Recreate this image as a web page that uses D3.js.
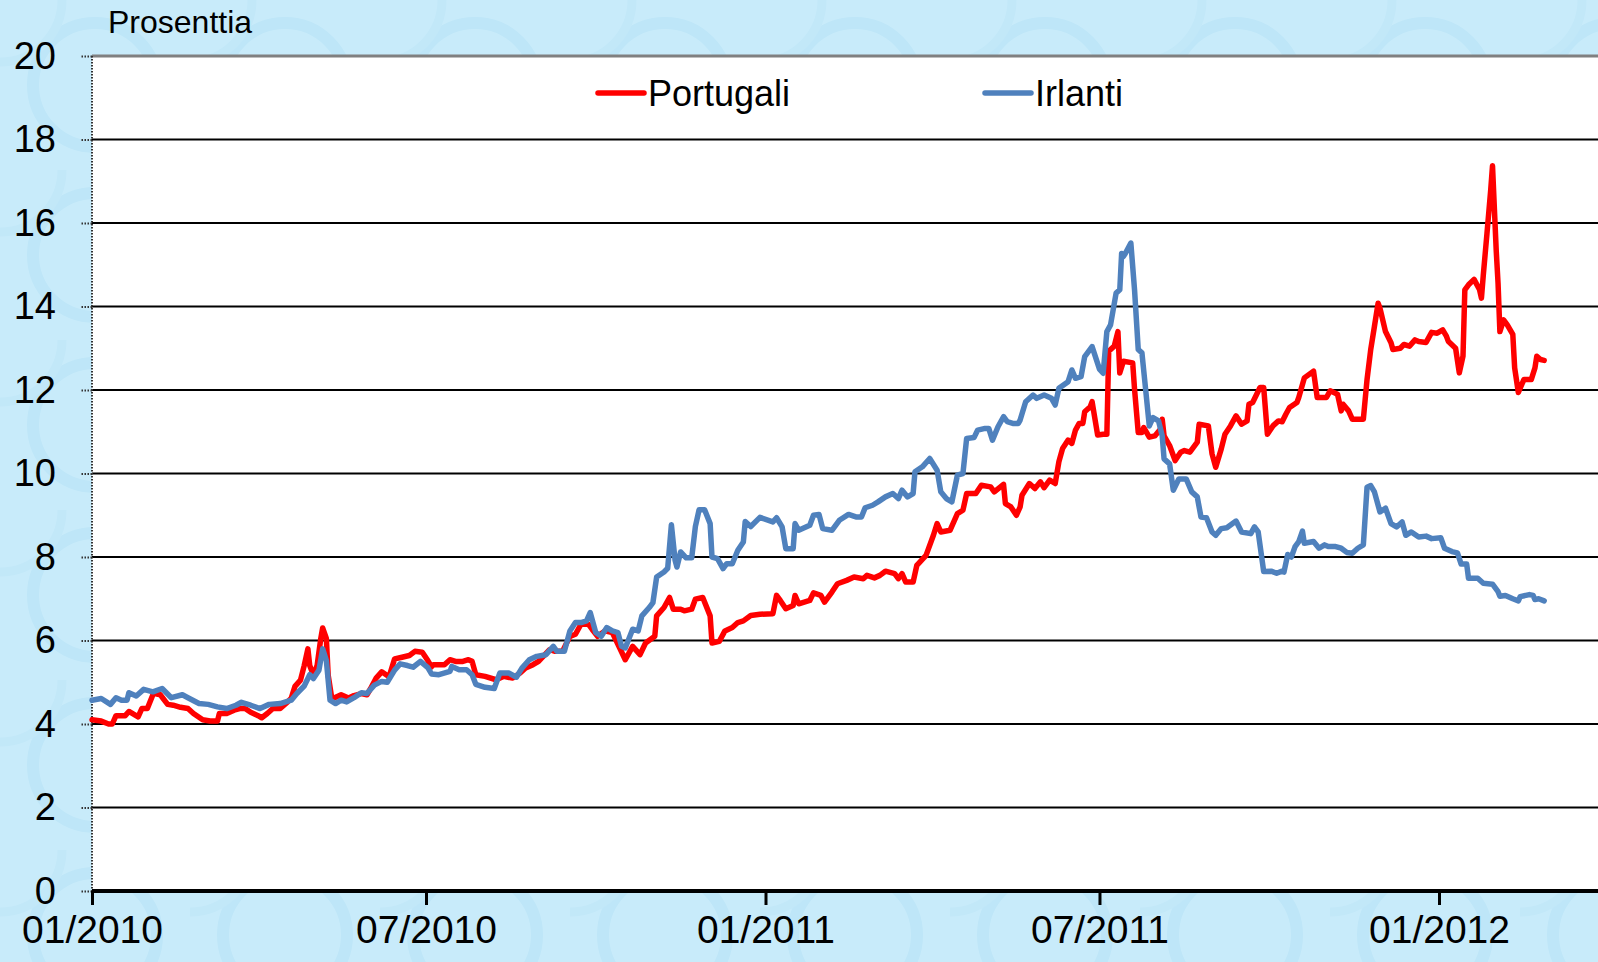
<!DOCTYPE html>
<html>
<head>
<meta charset="utf-8">
<script src="https://cdn.jsdelivr.net/npm/d3@7"></script>
<style>
  html, body { margin: 0; padding: 0; background: #c8ebfa; }
  svg { display: block; }
  text { font-family: "Liberation Sans", Arial, sans-serif; fill: #000; }
</style>
</head>
<body>
<svg id="chart" width="1598" height="962"></svg>
<script>
// y-axis ticks and x-axis tick dates
var yTicks = [0, 2, 4, 6, 8, 10, 12, 14, 16, 18, 20];
var xTickDates = ["2010-01-01", "2010-07-01", "2011-01-01", "2011-07-01", "2012-01-01"];
var seriesNames = ["Portugali", "Irlanti"];
var seriesColors = ["#ff0000", "#4f81bd"];

// 10-year yields (%)
var portugali = [
  ["2010-01-01",4.10],["2010-01-06",4.07],["2010-01-10",4.00],["2010-01-12",4.00],["2010-01-14",4.20],
  ["2010-01-19",4.20],["2010-01-21",4.30],["2010-01-26",4.17],["2010-01-28",4.37],["2010-01-31",4.37],
  ["2010-02-03",4.70],["2010-02-04",4.73],["2010-02-07",4.70],["2010-02-11",4.47],["2010-02-14",4.45],
  ["2010-02-18",4.40],["2010-02-22",4.37],["2010-02-25",4.25],["2010-03-02",4.10],["2010-03-06",4.07],
  ["2010-03-10",4.07],["2010-03-11",4.25],["2010-03-15",4.25],["2010-03-19",4.33],["2010-03-22",4.37],
  ["2010-03-25",4.37],["2010-03-28",4.28],["2010-04-01",4.20],["2010-04-03",4.15],["2010-04-06",4.25],
  ["2010-04-09",4.37],["2010-04-13",4.37],["2010-04-17",4.53],["2010-04-19",4.62],["2010-04-21",4.90],
  ["2010-04-24",5.05],["2010-04-26",5.40],["2010-04-28",5.80],["2010-04-29",5.40],["2010-05-01",5.17],
  ["2010-05-03",5.40],["2010-05-05",6.05],["2010-05-06",6.30],["2010-05-08",6.05],["2010-05-09",5.17],
  ["2010-05-11",4.60],["2010-05-16",4.70],["2010-05-20",4.62],["2010-05-23",4.68],["2010-05-27",4.73],
  ["2010-05-30",4.70],["2010-06-01",4.85],["2010-06-04",5.10],["2010-06-07",5.25],["2010-06-11",5.13],
  ["2010-06-14",5.56],["2010-06-18",5.60],["2010-06-22",5.64],["2010-06-25",5.74],["2010-06-29",5.72],
  ["2010-07-02",5.52],["2010-07-04",5.37],["2010-07-05",5.42],["2010-07-11",5.42],["2010-07-14",5.54],
  ["2010-07-17",5.50],["2010-07-21",5.50],["2010-07-24",5.54],["2010-07-26",5.50],["2010-07-28",5.18],
  ["2010-08-02",5.14],["2010-08-08",5.06],["2010-08-12",5.14],["2010-08-17",5.10],["2010-08-21",5.22],
  ["2010-08-24",5.34],["2010-08-28",5.42],["2010-08-31",5.50],["2010-09-06",5.78],["2010-09-09",5.74],
  ["2010-09-13",5.74],["2010-09-17",6.10],["2010-09-20",6.15],["2010-09-23",6.39],["2010-09-27",6.39],
  ["2010-09-29",6.27],["2010-10-02",6.10],["2010-10-06",6.23],["2010-10-10",6.19],["2010-10-14",5.82],
  ["2010-10-17",5.54],["2010-10-21",5.86],["2010-10-25",5.66],["2010-10-28",5.94],["2010-11-02",6.10],
  ["2010-11-03",6.59],["2010-11-07",6.79],["2010-11-10",7.03],["2010-11-12",6.75],["2010-11-16",6.75],
  ["2010-11-18",6.71],["2010-11-22",6.75],["2010-11-24",6.99],["2010-11-28",7.03],["2010-12-02",6.59],
  ["2010-12-03",5.94],["2010-12-07",5.98],["2010-12-10",6.23],["2010-12-14",6.31],["2010-12-17",6.43],
  ["2010-12-20",6.47],["2010-12-24",6.60],["2010-12-29",6.63],["2011-01-05",6.64],["2011-01-07",7.08],
  ["2011-01-09",6.96],["2011-01-12",6.76],["2011-01-16",6.84],["2011-01-17",7.08],["2011-01-19",6.88],
  ["2011-01-25",6.96],["2011-01-27",7.14],["2011-01-31",7.08],["2011-02-02",6.92],["2011-02-06",7.16],
  ["2011-02-09",7.36],["2011-02-14",7.44],["2011-02-18",7.52],["2011-02-23",7.48],["2011-02-25",7.56],
  ["2011-03-01",7.50],["2011-03-04",7.56],["2011-03-07",7.66],["2011-03-12",7.60],["2011-03-14",7.48],
  ["2011-03-16",7.60],["2011-03-18",7.40],["2011-03-22",7.40],["2011-03-24",7.80],["2011-03-29",8.04],
  ["2011-04-02",8.52],["2011-04-04",8.80],["2011-04-06",8.60],["2011-04-11",8.64],["2011-04-15",9.04],
  ["2011-04-18",9.12],["2011-04-20",9.52],["2011-04-25",9.52],["2011-04-28",9.72],["2011-05-03",9.68],
  ["2011-05-05",9.56],["2011-05-10",9.74],["2011-05-11",9.28],["2011-05-14",9.20],["2011-05-17",9.00],
  ["2011-05-19",9.20],["2011-05-20",9.48],["2011-05-24",9.76],["2011-05-27",9.64],["2011-05-30",9.80],
  ["2011-06-01",9.66],["2011-06-04",9.84],["2011-06-07",9.76],["2011-06-09",10.28],["2011-06-11",10.60],
  ["2011-06-14",10.80],["2011-06-16",10.72],["2011-06-18",11.04],["2011-06-20",11.20],["2011-06-22",11.20],
  ["2011-06-23",11.48],["2011-06-26",11.60],["2011-06-27",11.72],["2011-06-30",10.92],["2011-07-03",10.94],
  ["2011-07-05",10.94],["2011-07-06",12.93],["2011-07-09",13.05],["2011-07-11",13.40],["2011-07-12",12.41],
  ["2011-07-14",12.69],["2011-07-19",12.65],["2011-07-20",12.02],["2011-07-22",10.98],["2011-07-24",10.98],
  ["2011-07-25",11.10],["2011-07-28",10.87],["2011-07-31",10.90],["2011-08-03",11.06],["2011-08-04",11.30],
  ["2011-08-05",10.90],["2011-08-08",10.67],["2011-08-11",10.31],["2011-08-14",10.51],["2011-08-16",10.55],
  ["2011-08-19",10.51],["2011-08-23",10.75],["2011-08-24",11.18],["2011-08-29",11.14],["2011-08-31",10.47],
  ["2011-09-02",10.15],["2011-09-05",10.59],["2011-09-07",10.94],["2011-09-10",11.14],["2011-09-13",11.38],
  ["2011-09-16",11.18],["2011-09-19",11.26],["2011-09-20",11.66],["2011-09-22",11.70],["2011-09-26",12.06],
  ["2011-09-28",12.06],["2011-09-30",10.94],["2011-10-03",11.14],["2011-10-06",11.26],["2011-10-08",11.24],
  ["2011-10-10",11.42],["2011-10-12",11.58],["2011-10-16",11.70],["2011-10-17",11.82],["2011-10-20",12.29],
  ["2011-10-25",12.45],["2011-10-27",11.82],["2011-11-01",11.82],["2011-11-03",11.98],["2011-11-07",11.90],
  ["2011-11-09",11.50],["2011-11-10",11.66],["2011-11-13",11.50],["2011-11-15",11.30],["2011-11-21",11.30],
  ["2011-11-23",12.25],["2011-11-25",12.97],["2011-11-27",13.52],["2011-11-29",14.08],["2011-11-30",13.96],
  ["2011-12-03",13.40],["2011-12-06",13.13],["2011-12-07",12.97],["2011-12-11",13.00],["2011-12-13",13.09],
  ["2011-12-16",13.05],["2011-12-19",13.20],["2011-12-21",13.16],["2011-12-25",13.14],["2011-12-28",13.38],
  ["2011-12-31",13.36],["2012-01-03",13.44],["2012-01-05",13.29],["2012-01-06",13.17],["2012-01-10",13.00],
  ["2012-01-12",12.41],["2012-01-14",12.81],["2012-01-15",14.40],["2012-01-17",14.52],["2012-01-20",14.65],
  ["2012-01-23",14.40],["2012-01-24",14.20],["2012-01-25",14.75],["2012-01-27",15.75],["2012-01-29",16.78],
  ["2012-01-30",17.37],["2012-02-01",15.35],["2012-02-02",14.56],["2012-02-03",13.40],["2012-02-05",13.68],
  ["2012-02-07",13.56],["2012-02-10",13.33],["2012-02-11",12.53],["2012-02-13",11.94],["2012-02-16",12.25],
  ["2012-02-20",12.25],["2012-02-22",12.53],["2012-02-23",12.81],["2012-02-25",12.73],["2012-02-27",12.71]
];

var irlanti = [
  ["2010-01-01",4.57],["2010-01-06",4.61],["2010-01-11",4.47],["2010-01-14",4.63],["2010-01-17",4.57],
  ["2010-01-20",4.57],["2010-01-21",4.75],["2010-01-25",4.67],["2010-01-29",4.83],["2010-02-03",4.77],
  ["2010-02-08",4.85],["2010-02-13",4.63],["2010-02-19",4.70],["2010-02-22",4.63],["2010-02-28",4.49],
  ["2010-03-05",4.47],["2010-03-10",4.41],["2010-03-15",4.37],["2010-03-20",4.45],["2010-03-23",4.52],
  ["2010-03-28",4.45],["2010-04-02",4.37],["2010-04-07",4.47],["2010-04-13",4.49],["2010-04-19",4.57],
  ["2010-04-22",4.73],["2010-04-26",4.91],["2010-04-29",5.18],["2010-05-01",5.09],["2010-05-04",5.29],
  ["2010-05-06",5.80],["2010-05-08",5.52],["2010-05-10",4.57],["2010-05-13",4.49],["2010-05-16",4.57],
  ["2010-05-19",4.53],["2010-05-23",4.63],["2010-05-27",4.75],["2010-05-30",4.73],["2010-06-03",4.93],
  ["2010-06-07",5.02],["2010-06-10",5.00],["2010-06-14",5.29],["2010-06-17",5.44],["2010-06-21",5.40],
  ["2010-06-24",5.36],["2010-06-28",5.50],["2010-07-02",5.35],["2010-07-04",5.20],["2010-07-08",5.18],
  ["2010-07-14",5.26],["2010-07-15",5.38],["2010-07-19",5.30],["2010-07-23",5.30],["2010-07-26",5.18],
  ["2010-07-28",4.95],["2010-08-02",4.88],["2010-08-07",4.85],["2010-08-10",5.22],["2010-08-15",5.22],
  ["2010-08-19",5.12],["2010-08-22",5.34],["2010-08-26",5.54],["2010-08-30",5.62],["2010-09-04",5.66],
  ["2010-09-08",5.86],["2010-09-10",5.74],["2010-09-14",5.74],["2010-09-17",6.23],["2010-09-20",6.43],
  ["2010-09-23",6.43],["2010-09-26",6.47],["2010-09-28",6.67],["2010-10-01",6.19],["2010-10-04",6.10],
  ["2010-10-07",6.31],["2010-10-10",6.23],["2010-10-13",6.19],["2010-10-15",5.86],["2010-10-17",5.82],
  ["2010-10-21",6.27],["2010-10-24",6.23],["2010-10-26",6.59],["2010-10-30",6.79],["2010-11-01",6.91],
  ["2010-11-03",7.52],["2010-11-07",7.64],["2010-11-09",7.73],["2010-11-11",8.77],["2010-11-13",7.92],
  ["2010-11-14",7.76],["2010-11-16",8.12],["2010-11-19",7.98],["2010-11-22",7.98],["2010-11-24",8.73],
  ["2010-11-26",9.13],["2010-11-29",9.13],["2010-12-02",8.80],["2010-12-03",8.00],["2010-12-06",7.96],
  ["2010-12-09",7.72],["2010-12-11",7.84],["2010-12-14",7.84],["2010-12-17",8.16],["2010-12-20",8.36],
  ["2010-12-21",8.85],["2010-12-24",8.73],["2010-12-29",8.95],["2011-01-05",8.84],["2011-01-07",8.94],
  ["2011-01-10",8.72],["2011-01-12",8.20],["2011-01-16",8.20],["2011-01-17",8.80],["2011-01-19",8.64],
  ["2011-01-25",8.76],["2011-01-27",9.00],["2011-01-30",9.02],["2011-02-01",8.68],["2011-02-06",8.64],
  ["2011-02-10",8.88],["2011-02-15",9.02],["2011-02-19",8.96],["2011-02-22",8.96],["2011-02-24",9.18],
  ["2011-02-28",9.24],["2011-03-03",9.32],["2011-03-07",9.44],["2011-03-11",9.52],["2011-03-14",9.40],
  ["2011-03-16",9.60],["2011-03-19",9.44],["2011-03-22",9.52],["2011-03-23",10.04],["2011-03-27",10.16],
  ["2011-03-31",10.36],["2011-04-04",10.08],["2011-04-06",9.56],["2011-04-09",9.40],["2011-04-12",9.32],
  ["2011-04-15",9.96],["2011-04-18",10.00],["2011-04-20",10.84],["2011-04-24",10.86],["2011-04-26",11.04],
  ["2011-04-30",11.08],["2011-05-02",11.08],["2011-05-04",10.80],["2011-05-07",11.12],["2011-05-10",11.36],
  ["2011-05-12",11.24],["2011-05-15",11.20],["2011-05-18",11.20],["2011-05-19",11.28],["2011-05-22",11.72],
  ["2011-05-26",11.88],["2011-05-28",11.80],["2011-06-01",11.88],["2011-06-05",11.80],["2011-06-07",11.64],
  ["2011-06-09",12.04],["2011-06-14",12.20],["2011-06-16",12.48],["2011-06-18",12.28],["2011-06-21",12.32],
  ["2011-06-23",12.80],["2011-06-27",13.04],["2011-07-01",12.50],["2011-07-03",12.40],["2011-07-05",13.40],
  ["2011-07-07",13.56],["2011-07-10",14.32],["2011-07-12",14.40],["2011-07-13",15.27],["2011-07-14",15.20],
  ["2011-07-15",15.27],["2011-07-18",15.52],["2011-07-20",14.40],["2011-07-22",12.97],["2011-07-24",12.89],
  ["2011-07-26",12.02],["2011-07-28",11.14],["2011-07-30",11.34],["2011-08-02",11.26],["2011-08-04",10.90],
  ["2011-08-05",10.35],["2011-08-08",10.23],["2011-08-10",9.60],["2011-08-13",9.87],["2011-08-17",9.87],
  ["2011-08-20",9.56],["2011-08-23",9.44],["2011-08-25",8.96],["2011-08-28",8.94],["2011-08-31",8.60],
  ["2011-09-02",8.52],["2011-09-05",8.68],["2011-09-08",8.70],["2011-09-13",8.86],["2011-09-16",8.60],
  ["2011-09-21",8.56],["2011-09-23",8.72],["2011-09-25",8.60],["2011-09-28",7.65],["2011-10-02",7.66],
  ["2011-10-05",7.61],["2011-10-08",7.66],["2011-10-09",7.64],["2011-10-11",8.06],["2011-10-13",8.00],
  ["2011-10-15",8.25],["2011-10-17",8.37],["2011-10-19",8.62],["2011-10-20",8.33],["2011-10-25",8.37],
  ["2011-10-28",8.21],["2011-10-31",8.29],["2011-11-02",8.25],["2011-11-06",8.25],["2011-11-09",8.21],
  ["2011-11-12",8.11],["2011-11-15",8.09],["2011-11-18",8.21],["2011-11-21",8.29],["2011-11-23",9.67],
  ["2011-11-25",9.71],["2011-11-27",9.56],["2011-11-30",9.08],["2011-12-03",9.17],["2011-12-06",8.80],
  ["2011-12-09",8.72],["2011-12-12",8.84],["2011-12-14",8.52],["2011-12-17",8.60],["2011-12-21",8.48],
  ["2011-12-25",8.50],["2011-12-28",8.44],["2012-01-02",8.46],["2012-01-04",8.21],["2012-01-08",8.13],
  ["2012-01-11",8.10],["2012-01-13",7.83],["2012-01-16",7.83],["2012-01-17",7.49],["2012-01-22",7.49],
  ["2012-01-25",7.37],["2012-01-30",7.35],["2012-02-02",7.17],["2012-02-03",7.06],["2012-02-06",7.08],
  ["2012-02-10",7.00],["2012-02-13",6.95],["2012-02-14",7.05],["2012-02-19",7.10],["2012-02-21",7.08],
  ["2012-02-22",6.98],["2012-02-24",7.00],["2012-02-27",6.95]
];

var parse = d3.timeParse("%Y-%m-%d");
var W = 1598, H = 962;
var plotLeft = 92, plotTop = 56, plotBottom = 891, plotRight = W;

var svg = d3.select("#chart");

// faint background ornament
var defs = svg.append("defs");
var pat = defs.append("pattern").attr("id", "bgpat")
    .attr("patternUnits", "userSpaceOnUse").attr("width", 190).attr("height", 170);
pat.append("circle").attr("cx", 95).attr("cy", 85).attr("r", 62)
    .attr("fill", "none").attr("stroke", "#b5e2f6").attr("stroke-width", 12);
pat.append("circle").attr("cx", 0).attr("cy", 0).attr("r", 62)
    .attr("fill", "none").attr("stroke", "#bde5f7").attr("stroke-width", 9);
svg.append("rect").attr("width", W).attr("height", H).attr("fill", "#c8ebfa");
svg.append("rect").attr("width", W).attr("height", H).attr("fill", "url(#bgpat)").attr("opacity", 0.55);

var x = d3.scaleTime()
    .domain([parse("2010-01-01"), parse("2012-01-01")])
    .range([plotLeft, 1439]);
var y = d3.scaleLinear().domain([0, 20]).range([plotBottom, plotTop]);

// plot area
svg.append("rect").attr("x", plotLeft).attr("y", plotTop)
    .attr("width", plotRight - plotLeft).attr("height", plotBottom - plotTop).attr("fill", "#fff");

// gridlines
svg.append("g").selectAll("line")
  .data(yTicks.filter(function(d) { return d > 0 && d < 20; }))
  .enter().append("line")
    .attr("x1", plotLeft).attr("x2", plotRight)
    .attr("y1", function(d) { return y(d); }).attr("y2", function(d) { return y(d); })
    .attr("stroke", "#000").attr("stroke-width", 2);

// top border
svg.append("line").attr("x1", plotLeft).attr("x2", plotRight)
    .attr("y1", y(20)).attr("y2", y(20))
    .attr("stroke", "#808080").attr("stroke-width", 3);

// y axis (dotted line + dotted ticks)
var yAxis = d3.axisLeft(y).tickValues(yTicks).tickSize(12).tickPadding(24);
var gy = svg.append("g").attr("transform", "translate(" + plotLeft + ",0)").call(yAxis);
gy.select(".domain").remove();
gy.selectAll(".tick line").attr("stroke", "#333").attr("stroke-width", 2).attr("stroke-dasharray", "1.5,1.5");
gy.selectAll(".tick text").style("font-size", "38px").attr("fill", "#000")
    .style("font-family", "'Liberation Sans', Arial, sans-serif");
svg.append("line").attr("x1", plotLeft).attr("x2", plotLeft).attr("y1", plotTop).attr("y2", plotBottom)
    .attr("stroke", "#333").attr("stroke-width", 2).attr("stroke-dasharray", "1.5,1.5");

// x axis
var xAxis = d3.axisBottom(x)
    .tickValues(xTickDates.map(parse))
    .tickFormat(d3.timeFormat("%m/%Y"))
    .tickSize(14).tickPadding(10).tickSizeOuter(0);
var gx = svg.append("g").attr("transform", "translate(0," + plotBottom + ")").call(xAxis);
gx.select(".domain").attr("d", "M" + plotLeft + ",0H" + plotRight).attr("stroke", "#000").attr("stroke-width", 4);
gx.selectAll(".tick line").attr("stroke", "#000").attr("stroke-width", 3);
gx.selectAll(".tick text").style("font-size", "39px").attr("fill", "#000")
    .style("font-family", "'Liberation Sans', Arial, sans-serif");

// lines
var line = d3.line()
    .x(function(d) { return x(parse(d[0])); })
    .y(function(d) { return y(d[1]); });

[portugali, irlanti].forEach(function(s, i) {
  svg.append("path").datum(s)
      .attr("d", line)
      .attr("fill", "none")
      .attr("stroke", seriesColors[i])
      .attr("stroke-width", 5.5)
      .attr("stroke-linejoin", "round")
      .attr("stroke-linecap", "round");
});

// unit label
svg.append("text").attr("x", 108).attr("y", 33).style("font-size", "32px").text("Prosenttia");

// legend
var legendX = [598, 985];
seriesNames.forEach(function(name, i) {
  var g = svg.append("g").attr("transform", "translate(" + legendX[i] + ",93)");
  g.append("line").attr("x1", 0).attr("x2", 46).attr("y1", 0).attr("y2", 0)
      .attr("stroke", seriesColors[i]).attr("stroke-width", 5.5).attr("stroke-linecap", "round");
  g.append("text").attr("x", 50).attr("y", 13).style("font-size", "36px").text(name);
});
</script>
</body>
</html>
